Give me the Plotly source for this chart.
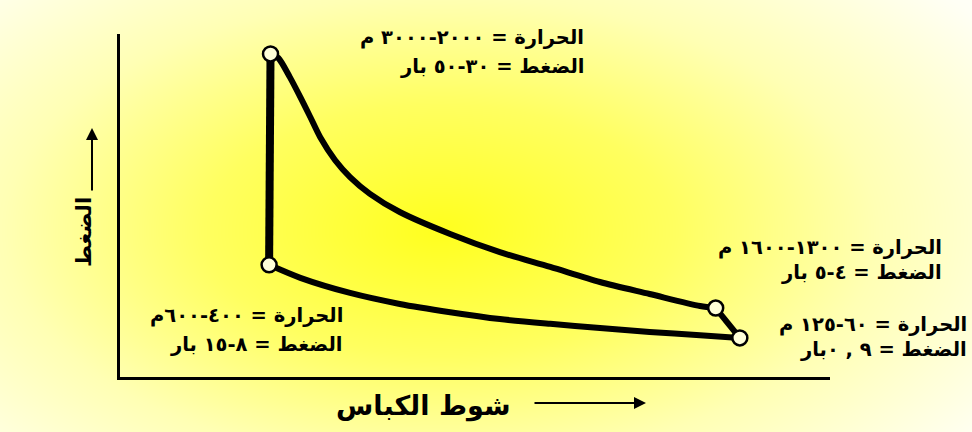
import numpy as np
import plotly.graph_objects as go

# Otto cycle P-V diagram (arbitrary units: volume 0-100, pressure 0-100)
expansion_v = [21.3, 22.3, 23.9, 25.4, 26.8, 28.2, 30.3, 32.4, 35.2, 39.4, 46.5, 53.5, 60.6, 67.6, 74.6, 81.7, 83.9]
expansion_p = [94.2, 93.0, 87.5, 81.6, 75.8, 69.9, 63.2, 58.3, 53.4, 48.1, 41.7, 36.4, 32.1, 27.7, 24.2, 20.7, 20.1]

compression_v = [21.0, 25.4, 32.4, 39.4, 46.5, 53.5, 60.6, 67.6, 74.6, 81.7, 87.3]
compression_p = [32.7, 28.9, 24.5, 21.3, 18.9, 16.9, 15.5, 14.3, 13.1, 12.2, 11.4]

# state points: top of combustion, start of combustion, exhaust opening, bottom dead centre
state_v = [21.2, 21.0, 83.9, 87.3]
state_p = [94.2, 32.7, 20.1, 11.4]

# labels: (text line 1, text line 2)
label_top = ("الحرارة = ٢٠٠٠-٣٠٠٠ م", "الضغط = ٣٠-٥٠ بار")
label_exhaust = ("الحرارة = ١٣٠٠-١٦٠٠ م", "الضغط = ٤-٥ بار")
label_bdc = ("الحرارة = ٦٠-١٢٥ م", "الضغط = ٩ , ٠بار")
label_compr = ("الحرارة = ٤٠٠-٦٠٠م", "الضغط = ٨-١٥ بار")
x_title = "شوط الكباس"
y_title = "الضغط"

W, H = 972, 432

fig = go.Figure()

# soft radial yellow glow behind the diagram
gx = np.linspace(0, W, 98)
gy = np.linspace(0, H, 45)
GX, GY = np.meshgrid(gx, gy)
glow = np.sqrt(((GX - 440) / 560) ** 2 + ((GY - 230) / 300) ** 2)
fig.add_trace(go.Heatmap(
    x=gx, y=gy, z=np.clip(glow, 0, 1.2), zsmooth="best", showscale=False,
    colorscale=[[0, "#FFFF1E"], [0.35, "#FFFF60"], [0.65, "#FFFFB4"], [1, "#FFFFF6"]],
    zmin=0, zmax=1.2, hoverinfo="skip", xaxis="x", yaxis="y",
))

line_style = dict(color="black", width=6)
fig.add_trace(go.Scatter(x=expansion_v, y=expansion_p, mode="lines", line=dict(line_style, shape="spline", smoothing=0.8),
                         xaxis="x2", yaxis="y2", hoverinfo="skip"))
fig.add_trace(go.Scatter(x=compression_v, y=compression_p, mode="lines", line=dict(line_style, shape="spline", smoothing=0.8),
                         xaxis="x2", yaxis="y2", hoverinfo="skip"))
fig.add_trace(go.Scatter(x=state_v[2:], y=state_p[2:], mode="lines", line=line_style,
                         xaxis="x2", yaxis="y2", hoverinfo="skip"))
fig.add_trace(go.Scatter(x=state_v[:2], y=state_p[:2], mode="lines", line=dict(color="black", width=8),
                         xaxis="x2", yaxis="y2", hoverinfo="skip"))
fig.add_trace(go.Scatter(x=state_v, y=state_p, mode="markers",
                         marker=dict(size=15, color="#FFFFD8", line=dict(color="black", width=2.5)),
                         xaxis="x2", yaxis="y2", hoverinfo="skip"))

axis_common = dict(showgrid=False, zeroline=False, showticklabels=False, ticks="")
fig.update_layout(
    width=W, height=H, margin=dict(l=0, r=0, t=0, b=0),
    paper_bgcolor="white", plot_bgcolor="rgba(0,0,0,0)", showlegend=False,
    xaxis=dict(axis_common, domain=[0, 1], range=[0, W], visible=False),
    yaxis=dict(axis_common, domain=[0, 1], range=[H, 0], visible=False),
    xaxis2=dict(axis_common, domain=[120 / W, 830 / W], range=[0, 100], anchor="y2",
                showline=True, linecolor="black", linewidth=3),
    yaxis2=dict(axis_common, domain=[1 - 377 / H, 1 - 34 / H], range=[0, 100], anchor="x2",
                showline=True, linecolor="black", linewidth=3),
    font=dict(family="DejaVu Sans", color="black"),
)


def px(x, y):
    return x / W, 1 - y / H


def add_label(lines, right, y1, y2, size=19.5):
    for text, yy in zip(lines, (y1, y2)):
        x, y = px(right, yy)
        fig.add_annotation(x=x, y=y, xref="paper", yref="paper", text=f"<b>{text}</b>",
                           showarrow=False, xanchor="right", yanchor="middle",
                           font=dict(size=size, color="black"))


add_label(label_top, 586, 37, 67)
add_label(label_exhaust, 944, 247, 272)
add_label(label_bdc, 969, 324, 349)
add_label(label_compr, 345, 315, 344)

# axis titles with direction arrows
x, y = px(423, 424)
fig.add_annotation(x=x, y=y, xref="paper", yref="paper", text=f"<b>{x_title}</b>", showarrow=False,
                   font=dict(size=27))
x, y = px(70, 232)
fig.add_annotation(x=x, y=y, xref="paper", yref="paper", text=f"<b>{y_title}</b>", showarrow=False,
                   textangle=-90, font=dict(size=21))

x, y = px(646, 403)
fig.add_annotation(x=x, y=y, xref="paper", yref="paper", text="", showarrow=True,
                   ax=-113, ay=0, arrowhead=2, arrowsize=1.2, arrowwidth=2, arrowcolor="black")
x, y = px(92, 128)
fig.add_annotation(x=x, y=y, xref="paper", yref="paper", text="", showarrow=True,
                   ax=0, ay=64, arrowhead=2, arrowsize=1.2, arrowwidth=2, arrowcolor="black")

fig.write_html("out.html")
